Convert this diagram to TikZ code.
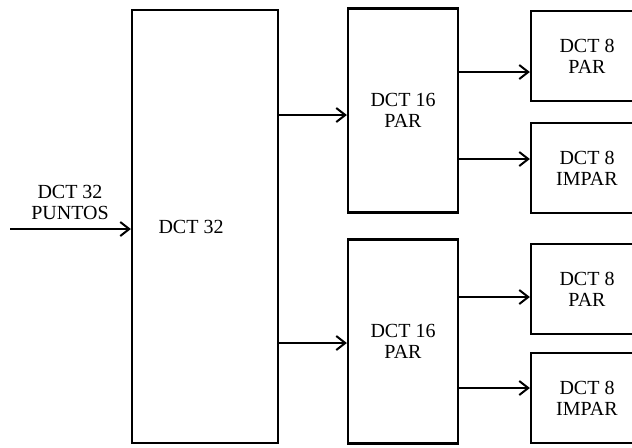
\documentclass[tikz,border=0pt]{standalone}
\usepackage{fontspec}
\setmainfont{Liberation Serif}
\usepackage{tikz}
\usetikzlibrary{arrows.meta, positioning, calc}
\tikzset{
    % Plain blocks
    block/.style={
        rectangle,
        draw=black,
        line width=1.1pt,
        align=center,
        inner sep=0pt,
        font=\fontsize{10}{10.5}\selectfont
    },
    block big/.style={
        block,
        minimum width=73pt,
        minimum height=216.5pt
    },
    block half/.style={
        block,
        minimum width=55pt,
        minimum height=102pt
    },
    block small/.style={
        block,
        minimum width=56pt,
        minimum height=45pt
    },
    arrow style/.style={
        -{Straight Barb[length=4.5pt,width=7pt]},
        line width=1pt,
        black
    }
}
\begin{document}
\begin{tikzpicture}[x=0.5pt, y=-0.5pt]
        \useasboundingbox (0,0) rectangle (632,447);

        % Main block
        \node[block big, label={[font=\fontsize{10}{10.5}\selectfont, xshift=-7pt]center:DCT 32}] (dct32) at (205,226.5) {};

        % Half-size blocks
        \node[block half] (par16a) at (403,110.5) {DCT 16\\PAR};
        \node[block half] (par16b) at (403,341.5) {DCT 16\\PAR};

        % Quarter-size blocks
        \node[block small] (dct8a) at (587,56) {DCT 8\\PAR};
        \node[block small] (dct8b) at (587,168) {DCT 8\\IMPAR};
        \node[block small] (dct8c) at (587,289) {DCT 8\\PAR};
        \node[block small] (dct8d) at (587,398) {DCT 8\\IMPAR};

        % Input
        \node[font=\fontsize{10}{10.5}\selectfont, align=center] (inlabel) at (70,202) {DCT 32\\PUNTOS};
        \coordinate (in) at (10,229);
        \draw[arrow style] (in) -- (in -| dct32.west);

        \draw[arrow style] (dct32.east |- 0,115) -- (par16a.west |- 0,115);
        \draw[arrow style] (dct32.east |- 0,343) -- (par16b.west |- 0,343);

        \draw[arrow style] (par16a.east |- 0,72) -- (dct8a.west |- 0,72);
        \draw[arrow style] (par16a.east |- 0,159) -- (dct8b.west |- 0,159);
        \draw[arrow style] (par16b.east |- 0,297) -- (dct8c.west |- 0,297);
        \draw[arrow style] (par16b.east |- 0,388) -- (dct8d.west |- 0,388);
    \end{tikzpicture}
\end{document}
